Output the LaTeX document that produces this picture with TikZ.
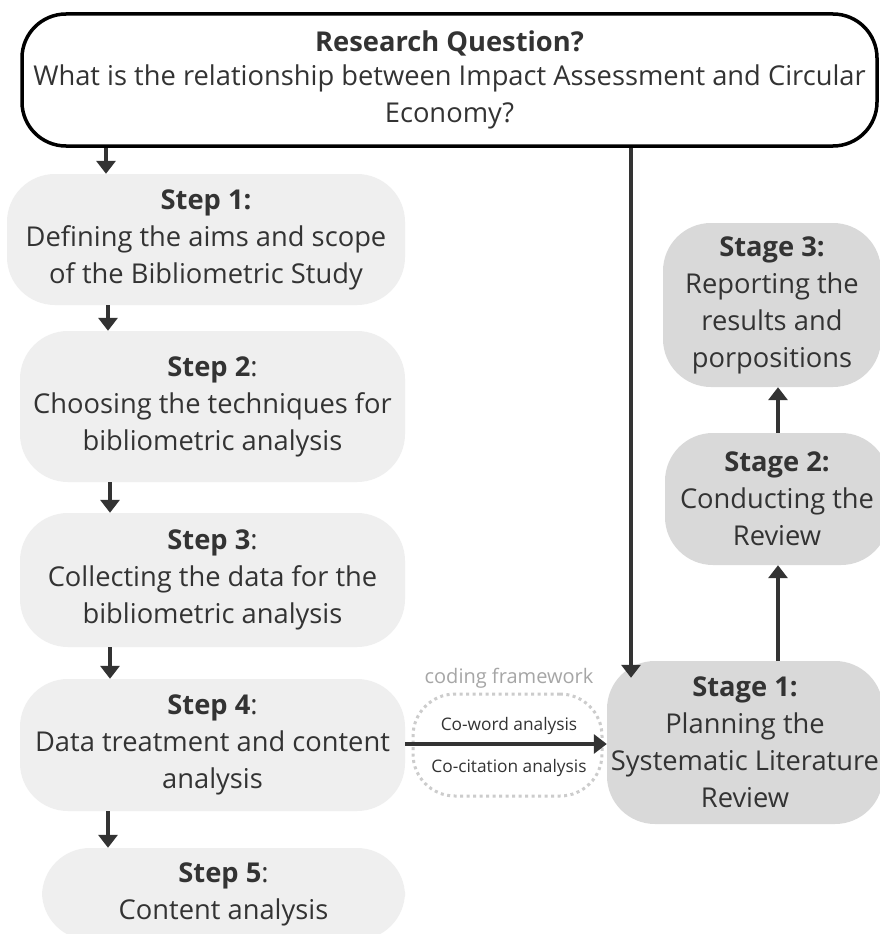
\documentclass[tikz,border=0pt]{standalone}
\usepackage{fontspec}
\setmainfont{Open Sans}
\usetikzlibrary{arrows.meta}
\definecolor{txt}{HTML}{333333}
\definecolor{stepfill}{HTML}{EFEFEF}
\definecolor{stagefill}{HTML}{D9D9D9}
\definecolor{dotc}{HTML}{CCCCCC}
\definecolor{lbl}{HTML}{A6A6A6}
\tikzset{
  big/.style={font=\fontsize{27.3}{37}\selectfont, text=txt, align=center, inner sep=0pt},
  stepbox/.style={big, fill=stepfill, rounded corners=48pt},
  stagebox/.style={big, fill=stagefill, rounded corners=48pt},
  topbox/.style={big, draw=black, line width=3.5pt, fill=white, rounded corners=44pt},
  arr/.style={draw=txt, line width=4.5pt, -{Triangle[length=13pt,width=19pt]}},
  small/.style={font=\fontsize{17.3}{20}\selectfont, text=txt, inner sep=0pt},
}
\begin{document}
\begin{tikzpicture}[x=1pt,y=-1pt]
\useasboundingbox (0,0) rectangle (879,934);
\fill[white] (0,0) rectangle (879,934);
% top box
\node[topbox, minimum width=855pt, minimum height=132pt] (top) at (449.5,80)
  {\raisebox{-3pt}{\textbf{Research Question?}}\\What is the relationship between Impact Assessment and Circular\\Economy?};
% steps
\node[stepbox, minimum width=398pt, minimum height=131pt] (s1) at (206,239.5)
  {\textbf{Step 1:}\\Defining the aims and scope\\of the Bibliometric Study};
\node[stepbox, minimum width=385pt, minimum height=151pt] (s2) at (212.5,406.5)
  {\textbf{Step 2}:\\Choosing the techniques for\\bibliometric analysis};
\node[stepbox, minimum width=385pt, minimum height=134pt] (s3) at (212.5,580)
  {\textbf{Step 3}:\\Collecting the data for the\\bibliometric analysis};
\node[stepbox, minimum width=385pt, minimum height=132pt] (s4) at (212.5,745)
  {\textbf{Step 4}:\\Data treatment and content\\analysis};
\node[stepbox, minimum width=363pt, minimum height=92pt] (s5) at (223.5,894)
  {\textbf{Step 5}:\\Content analysis};
% stages
\node[stagebox, minimum width=276pt, minimum height=163pt] (st1) at (745,742.5)
  {\textbf{Stage 1:}\\Planning the\\Systematic Literature\\Review};
\node[stagebox, minimum width=224pt, minimum height=132pt] (st2) at (777,499)
  {\textbf{Stage 2:}\\Conducting the\\Review};
\node[stagebox, minimum width=218pt, minimum height=164pt] (st3) at (772,305)
  {\textbf{Stage 3:}\\Reporting the\\results and\\porpositions};
% coding framework
\node[draw=dotc, line width=3pt, dash pattern=on 3pt off 3.5pt, rounded corners=42pt,
      minimum width=189pt, minimum height=102pt] (fr) at (507.5,745) {};
\node[font=\fontsize{20}{24}\selectfont, text=lbl, inner sep=0pt] (frl) at (509,678) {coding framework};
\node[small] (cw) at (509,726) {Co-word analysis};
\node[small] (cc) at (509,768) {Co-citation analysis};
% coordinates
\coordinate (xa) at (106,0);
\coordinate (xb) at (108,0);
\coordinate (xc) at (110,0);
\coordinate (xv) at (631,0);
\coordinate (xs) at (778,0);
\coordinate (yh) at (0,744);
% arrows
\draw[arr] (top.south -| xa) -- (s1.north -| xa);
\draw[arr] (s1.south -| xb) -- (s2.north -| xb);
\draw[arr] (s2.south -| xc) -- (s3.north -| xc);
\draw[arr] (s3.south -| xc) -- (s4.north -| xc);
\draw[arr] (s4.south -| xb) -- (s5.north -| xb);
\draw[arr] (s4.east |- yh) -- (st1.west |- yh);
\draw[arr, shorten >=-17pt] (top.south -| xv) -- (st1.north -| xv);
\draw[arr] (st1.north -| xs) -- (st2.south -| xs);
\draw[arr] (st2.north -| xs) -- (st3.south -| xs);
\end{tikzpicture}
\end{document}
